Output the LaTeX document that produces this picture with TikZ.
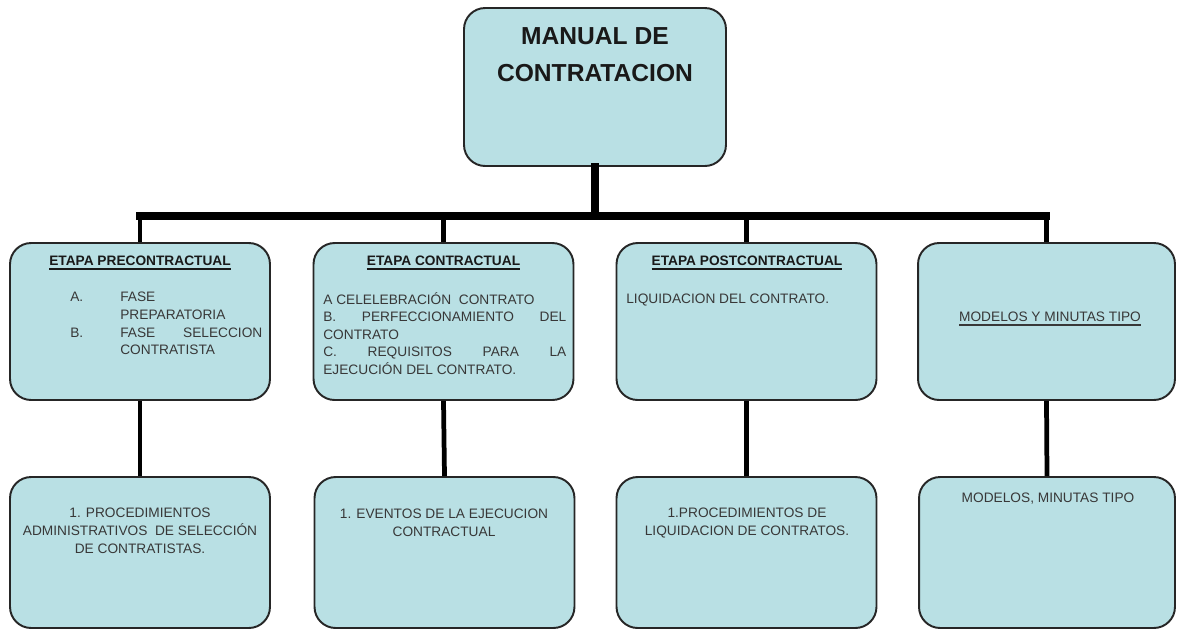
\documentclass[tikz,border=0pt]{standalone}
\usepackage{fontspec}
\setmainfont{Liberation Sans}
\definecolor{boxblue}{RGB}{185,224,228}
\tikzset{box/.style = {draw=black!85, fill=boxblue, rounded corners=12pt, line width=1.1pt, minimum width=5.2cm}}
\tikzset{txt/.style = {font=\fontsize{7.8}{10}\selectfont, text=black!78, inner sep=0}}
\tikzset{head/.style = {txt, font=\bfseries\fontsize{7.8}{10}\selectfont, text=black!90, anchor=north}}
\tikzset{bar/.style = {line width=4pt, line cap=rect}}
\tikzset{link/.style = {line width=2.7pt}}
\newcommand{\ulhead}[1]{\setbox0\hbox{#1}\rlap{\rule[-2.3pt]{\wd0}{1.1pt}}\box0}

\begin{document}
\begin{tikzpicture}[x=0.02cm, y=-0.02cm]
      \useasboundingbox (0,0) rectangle (1177,630);
      % boxes
      \node [box, minimum width=5.24cm, minimum height=3.16cm] (top) at (595,87) {};
      \node [box, minimum height=3.14cm] (e1) at (140,321.5) {};
      \node [box, minimum height=3.14cm] (e2) at (443.5,321.5) {};
      \node [box, minimum height=3.14cm] (e3) at (746.5,321.5) {};
      \node [box, minimum width=5.14cm, minimum height=3.14cm] (e4) at (1046.5,321.5) {};
      \node [box, minimum height=3.02cm] (d1) at (140,552.5) {};
      \node [box, minimum height=3.02cm] (d2) at (444.5,552.5) {};
      \node [box, minimum height=3.02cm] (d3) at (746.5,552.5) {};
      \node [box, minimum width=5.12cm, minimum height=3.02cm] (d4) at (1047,552.5) {};
      % connectors
      \coordinate (hub) at (595,216);
      \draw [bar] (top.south) -- (top.south |- hub);
      \draw [bar] (e1.north |- hub) -- (e4.north |- hub);
      \foreach \i in {1,...,4} {
        \draw [link] (e\i.north |- hub) -- (e\i.north);
        \draw [link] (e\i.south) -- (d\i.north);
      }
      % texts
      \node [font=\bfseries\fontsize{14}{21}\selectfont, text=black!90, align=center, anchor=north, inner sep=0] (title) at (595,27) {MANUAL DE\\CONTRATACION};
      \node [head] (h1) at (140,256) {\ulhead{ETAPA PRECONTRACTUAL}};
      \node [head] (h2) at (443.5,256) {\ulhead{ETAPA CONTRACTUAL}};
      \node [head] (h3) at (747,256) {\ulhead{ETAPA POSTCONTRACTUAL}};
      \node [txt, anchor=north] (h4) at (1050,312) {\ulhead{MODELOS Y MINUTAS TIPO}};
      \node [txt, align=left, anchor=north west] (l1) at (70,292) {\makebox[10mm][l]{A.}FASE\\\hspace*{10mm}PREPARATORIA\\\makebox[10mm][l]{B.}\makebox[28.4mm][s]{FASE SELECCION}\\\hspace*{10mm}CONTRATISTA};
      \node [txt, align=left, anchor=north west] (l2) at (323,292) {A CELELEBRACIÓN\ \ CONTRATO\\\makebox[48.6mm][s]{B. PERFECCIONAMIENTO DEL}\\CONTRATO\\\makebox[48.6mm][s]{C. REQUISITOS PARA LA}\\EJECUCIÓN DEL CONTRATO.};
      \node [txt, anchor=north west] (l3) at (626,294) {LIQUIDACION DEL CONTRATO.};
      \node [txt, align=center, anchor=north] (p1) at (140,508) {1. PROCEDIMIENTOS\\ADMINISTRATIVOS\ \ DE SELECCIÓN\\DE CONTRATISTAS.};
      \node [txt, align=center, anchor=north] (p2) at (444,509) {1. EVENTOS DE LA EJECUCION\\CONTRACTUAL};
      \node [txt, align=center, anchor=north] (p3) at (747,508) {1.PROCEDIMIENTOS DE\\LIQUIDACION DE CONTRATOS.};
      \node [txt, anchor=north] (p4) at (1048,493) {MODELOS, MINUTAS TIPO};
    \end{tikzpicture}
\end{document}
